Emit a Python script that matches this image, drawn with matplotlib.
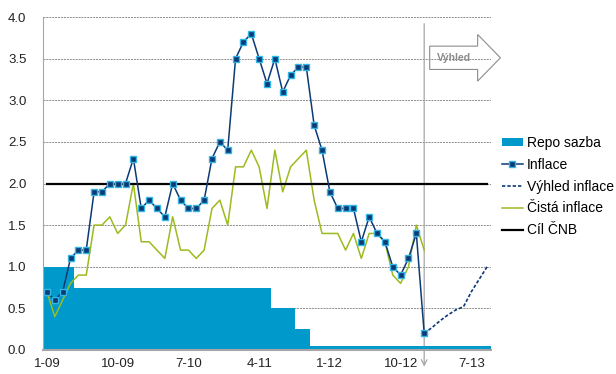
import matplotlib
matplotlib.use("Agg")
import matplotlib.pyplot as plt
from matplotlib.patches import Polygon
import numpy as np

plt.rcParams['font.family'] = ['Liberation Sans', 'DejaVu Sans']

# monthly data, Jan 2009 .. Sep 2013
repo = [1.0, 1.0, 1.0, 1.0,
        0.75, 0.75, 0.75, 0.75, 0.75, 0.75, 0.75, 0.75, 0.75, 0.75, 0.75, 0.75, 0.75,
        0.75, 0.75, 0.75, 0.75, 0.75, 0.75, 0.75, 0.75, 0.75, 0.75, 0.75, 0.75,
        0.5, 0.5, 0.5,
        0.25, 0.25,
        0.05, 0.05, 0.05, 0.05, 0.05, 0.05, 0.05, 0.05, 0.05, 0.05, 0.05, 0.05,
        0.05, 0.05, 0.05, 0.05, 0.05, 0.05, 0.05, 0.05, 0.05, 0.05, 0.05]
inflace = [0.7, 0.6, 0.7, 1.1, 1.2, 1.2, 1.9, 1.9, 2.0, 2.0, 2.0, 2.3,
           1.7, 1.8, 1.7, 1.6, 2.0, 1.8, 1.7, 1.7, 1.8, 2.3, 2.5, 2.4,
           3.5, 3.7, 3.8, 3.5, 3.2, 3.5, 3.1, 3.3, 3.4, 3.4, 2.7, 2.4,
           1.9, 1.7, 1.7, 1.7, 1.3, 1.6, 1.4, 1.3, 1.0, 0.9, 1.1, 1.4,
           0.2]
cista = [0.7, 0.4, 0.6, 0.8, 0.9, 0.9, 1.5, 1.5, 1.6, 1.4, 1.5, 2.0,
         1.3, 1.3, 1.2, 1.1, 1.6, 1.2, 1.2, 1.1, 1.2, 1.7, 1.8, 1.5,
         2.2, 2.2, 2.4, 2.2, 1.7, 2.4, 1.9, 2.2, 2.3, 2.4, 1.8, 1.4,
         1.4, 1.4, 1.2, 1.4, 1.1, 1.4, 1.4, 1.3, 0.9, 0.8, 1.0, 1.5,
         1.2]
vyhled = [0.2, 0.27, 0.35, 0.42, 0.48, 0.52, 0.7, 0.85, 1.0]
cil = 2.0
xlabels = ["1-09", "10-09", "7-10", "4-11", "1-12", "10-12", "7-13"]

months = np.arange(len(repo))
start_vyhled = len(inflace) - 1
x_vyhled = np.arange(start_vyhled, start_vyhled + len(vyhled))

navy = '#0B3A75'
green = '#9BBB1E'
blue = '#0099CC'
grey = '#A6A6A6'

fig = plt.figure(figsize=(6.16, 3.74), dpi=100)
ax = fig.add_axes([43/616, 24/374, 448/616, 333/374])

h_repo = ax.bar(months, repo, width=1.0, color=blue, linewidth=0, label='Repo sazba', zorder=2)
h_inf, = ax.plot(np.arange(len(inflace)), inflace, color=navy, lw=1.1, marker='s', ms=5,
                 mfc=navy, mec='#33B5E5', mew=1.0, label='Inflace', zorder=5)
h_vyh, = ax.plot(x_vyhled, vyhled, color=navy, lw=1.2, ls=(0, (2, 1.2)),
                 label='Výhled inflace', zorder=4)
h_cis, = ax.plot(np.arange(len(cista)), cista, color=green, lw=1.1, label='Čistá inflace', zorder=3)
h_cil, = ax.plot([months[0], months[-1]], [cil, cil], color='black', lw=1.6, label='Cíl ČNB', zorder=3)

ax.set_xlim(-0.5, len(repo) - 0.5)
ax.set_ylim(0, 4.0)
ax.set_yticks(np.arange(0, 4.01, 0.5))
ax.set_yticklabels([f"{v:.1f}" for v in np.arange(0, 4.01, 0.5)])
ax.set_xticks(months[::9])
ax.set_xticklabels(xlabels)
ax.tick_params(length=0, labelsize=9.5, labelcolor='#222222')
ax.tick_params(axis='y', pad=12)
ax.tick_params(axis='x', pad=6)

ax.yaxis.grid(True, color='#8C8C8C', ls=(0, (2, 1)), lw=0.7)
ax.set_axisbelow(True)
for s in ['top', 'right']:
    ax.spines[s].set_visible(False)
ax.spines['left'].set_color(grey)
ax.spines['bottom'].set_color(grey)
ax.spines['bottom'].set_linewidth(1.5)

# vertical divider with arrow at the bottom
ax.annotate('', xy=(start_vyhled, -0.2), xytext=(start_vyhled, 3.92),
            arrowprops=dict(arrowstyle='->', color=grey, lw=0.9, shrinkA=0, shrinkB=0),
            annotation_clip=False, zorder=1)

# "Výhled" block arrow (transparent, gridline shows through)
arrow_pts = [(48.7, 3.37), (48.7, 3.65), (54.8, 3.65), (54.8, 3.79),
             (57.7, 3.51), (54.8, 3.23), (54.8, 3.37)]
ax.add_patch(Polygon(arrow_pts, closed=True, facecolor='none', edgecolor='#8C8C8C',
                     lw=0.8, clip_on=False, zorder=6))
ax.text(51.8, 3.51, 'Výhled', color='#8C8C8C', fontsize=7.5, fontweight='bold',
        ha='center', va='center', zorder=7)

fig.legend(handles=[h_repo, h_inf, h_vyh, h_cis, h_cil],
           loc='upper left', bbox_to_anchor=(502/616, 1 - 136/374), frameon=False,
           fontsize=10, handlelength=1.5, handleheight=0.5, handletextpad=0.3,
           labelspacing=0.56, borderpad=0, borderaxespad=0)

fig.savefig('out.png', dpi=100)
